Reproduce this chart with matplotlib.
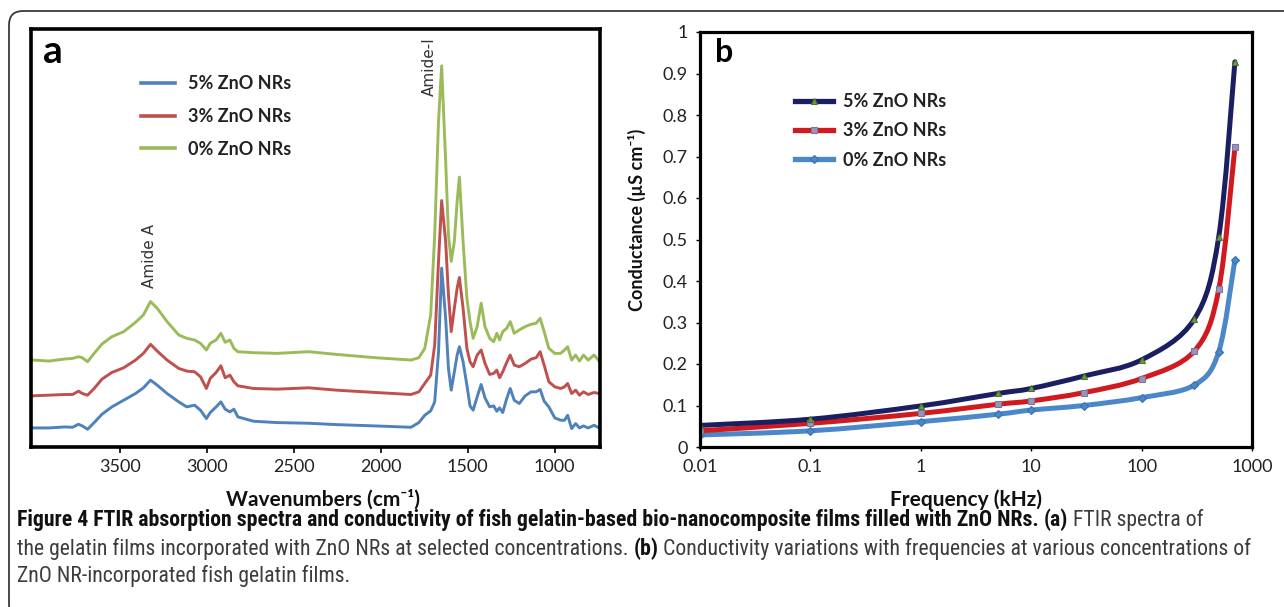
import matplotlib
matplotlib.use('Agg')
import matplotlib.pyplot as plt
from matplotlib import font_manager as fm
from matplotlib.path import Path
from matplotlib.patches import PathPatch, FancyBboxPatch
from matplotlib.lines import Line2D
from matplotlib.transforms import IdentityTransform
from matplotlib.ticker import NullLocator
import numpy as np

# ---------------- data: panel a (FTIR, arbitrary absorbance units) ----------------
wavenumber = [3998, 3907, 3817, 3771, 3737, 3715, 3685, 3647, 3602, 3545,
              3477, 3409, 3364, 3323, 3285, 3228, 3161, 3115, 3070, 3036,
              3002, 2980, 2946, 2919, 2894, 2867, 2844, 2821, 2731, 2595,
              2414, 2256, 2030, 1826, 1781, 1747, 1713, 1690, 1668, 1650,
              1627, 1611, 1595, 1577, 1561, 1548, 1527, 1505, 1487, 1469,
              1446, 1423, 1401, 1374, 1351, 1333, 1317, 1299, 1276, 1256,
              1233, 1204, 1170, 1136, 1107, 1084, 1061, 1034, 1000, 966,
              944, 926, 903, 880, 858, 835, 808, 774, 745]
abs_5 = [.057, .057, .060, .059, .068, .063, .053, .073, .098, .120,
         .140, .160, .177, .200, .185, .160, .135, .120, .125, .110,
         .085, .103, .120, .135, .113, .105, .113, .090, .077, .073,
         .071, .067, .063, .059, .073, .095, .108, .135, .285, .535,
         .385, .235, .170, .225, .275, .300, .255, .185, .123, .110,
         .150, .187, .147, .120, .123, .107, .117, .103, .145, .175,
         .140, .130, .153, .165, .165, .172, .137, .120, .087, .080,
         .080, .095, .055, .070, .057, .063, .057, .065, .057]
abs_3 = [.153, .155, .157, .157, .167, .160, .155, .175, .203, .223,
         .237, .260, .280, .307, .287, .260, .235, .227, .225, .210,
         .175, .205, .223, .243, .207, .215, .195, .183, .175, .173,
         .177, .170, .163, .157, .165, .190, .215, .305, .555, .737,
         .615, .455, .345, .415, .475, .507, .415, .295, .255, .240,
         .275, .290, .250, .217, .220, .230, .207, .225, .253, .275,
         .245, .240, .250, .263, .267, .285, .245, .195, .180, .175,
         .180, .190, .160, .170, .155, .165, .157, .163, .160]
abs_0 = [.260, .257, .263, .265, .270, .267, .255, .280, .308, .330,
         .345, .373, .395, .435, .415, .375, .335, .325, .320, .310,
         .290, .310, .320, .340, .313, .320, .295, .285, .282, .280,
         .285, .277, .267, .260, .267, .295, .395, .635, .975, 1.140,
         .855, .635, .555, .615, .735, .807, .615, .445, .375, .325,
         .360, .430, .360, .325, .315, .340, .320, .345, .355, .375,
         .340, .350, .360, .367, .370, .385, .345, .295, .280, .280,
         .290, .300, .260, .275, .257, .275, .260, .275, .257]
ftir_ticks = [3500, 3000, 2500, 2000, 1500, 1000]

# ---------------- data: panel b (conductance) ----------------
freq_khz = [0.01, 0.1, 1, 5, 10, 30, 100, 300, 500, 700]
cond_5 = [0.052, 0.067, 0.099, 0.129, 0.141, 0.171, 0.210, 0.308, 0.507, 0.928]
cond_3 = [0.039, 0.057, 0.081, 0.103, 0.111, 0.131, 0.165, 0.231, 0.380, 0.722]
cond_0 = [0.029, 0.039, 0.061, 0.079, 0.089, 0.100, 0.119, 0.149, 0.230, 0.451]
freq_ticks = [0.01, 0.1, 1, 10, 100, 1000]
freq_tick_labels = ['0.01', '0.1', '1', '10', '100', '1000']
cond_ticks = [0, 0.1, 0.2, 0.3, 0.4, 0.5, 0.6, 0.7, 0.8, 0.9, 1.0]
cond_tick_labels = ['0', '0.1', '0.2', '0.3', '0.4', '0.5', '0.6', '0.7', '0.8', '0.9', '1']
labels = ['5% ZnO NRs', '3% ZnO NRs', '0% ZnO NRs']


def pick(cands):
    for c in cands:
        try:
            fm.findfont(fm.FontProperties(family=c), fallback_to_default=False)
            return c
        except Exception:
            pass
    return 'DejaVu Sans'


CF = pick(['Lato', 'Open Sans', 'DejaVu Sans'])
CAPF = pick(['Liberation Sans Narrow', 'Roboto Condensed', 'Open Sans Condensed', 'Lato'])
FAM = [CF, 'DejaVu Sans']

W, H = 1284, 607
fig = plt.figure(figsize=(W / 100, H / 100), dpi=100)
fig.patch.set_facecolor('white')


def px_axes(l, t, r, b):
    return fig.add_axes([l / W, 1 - b / H, (r - l) / W, (b - t) / H])


# outer rounded frame
frame = FancyBboxPatch((9, -12), 1300, 607 - 11 + 12, boxstyle='round,pad=0,rounding_size=14',
                       transform=IdentityTransform(), fill=False, ec='#3a3a3a', lw=1.3)
fig.add_artist(frame)

# ---------------- panel a ----------------
axA = px_axes(31, 29, 600, 447)
lA0, = axA.plot(wavenumber, abs_0, color='#9bbb59', lw=2.1, solid_joinstyle='round')
lA3, = axA.plot(wavenumber, abs_3, color='#c0504d', lw=2.1, solid_joinstyle='round')
lA5, = axA.plot(wavenumber, abs_5, color='#4f81bd', lw=2.1, solid_joinstyle='round')
axA.set_xlim(4010, 740)
axA.set_ylim(0, 1.25)
axA.set_xticks(ftir_ticks)
axA.set_xticklabels([str(t) for t in ftir_ticks], family=FAM, fontsize=13, color='#222222')
axA.set_yticks([])
axA.tick_params(axis='x', direction='out', length=4, width=1.2, pad=5)
for s in axA.spines.values():
    s.set_linewidth(2.6)
    s.set_color('black')
axA.set_xlabel('Wavenumbers (cm⁻¹)', family=FAM, fontsize=15, fontweight='bold', color='#111111')
axA.xaxis.set_label_coords((323 - 31) / 569, (447 - 489) / 418)


def fa(px, py):
    return ((px - 31) / 569, (447 - py) / 418)


axA.text(*fa(43, 63), 'a', transform=axA.transAxes, family=FAM, fontsize=28,
         fontweight='bold', ha='left', va='baseline')
axA.text(*fa(149, 256), 'Amide A', transform=axA.transAxes, rotation=90, fontsize=11,
         color='#333333', ha='center', va='center', family=['DejaVu Sans'])
axA.text(*fa(429, 67), 'Amide-I', transform=axA.transAxes, rotation=90, fontsize=11,
         color='#333333', ha='center', va='center', family=['DejaVu Sans'])
legA = axA.legend([lA5, lA3, lA0], labels, loc='upper left', bbox_to_anchor=fa(141, 75),
                  frameon=False, borderpad=0, borderaxespad=0, handlelength=1.9,
                  handletextpad=0.7, labelspacing=0.88,
                  prop=fm.FontProperties(family=FAM, weight='bold', size=13))
for t in legA.get_texts():
    t.set_color('#222222')
for h in legA.get_lines():
    h.set_linewidth(2.6)

# ---------------- panel b ----------------
axB = px_axes(700, 32, 1252, 447)
axB.set_xscale('log')
axB.set_xlim(0.01, 1000)
axB.set_ylim(0, 1)


def smooth_path(xs, ys):
    lx = np.log10(np.asarray(xs, float))
    y = np.asarray(ys, float)
    P = np.column_stack([lx, y])
    n = len(P)
    verts = [P[0]]
    codes = [Path.MOVETO]
    for i in range(n - 1):
        p_prev = P[i - 1] if i > 0 else P[i]
        p_next2 = P[i + 2] if i + 2 < n else P[i + 1]
        c1 = P[i] + (P[i + 1] - p_prev) / 6.0
        c2 = P[i + 1] - (p_next2 - P[i]) / 6.0
        verts += [c1, c2, P[i + 1]]
        codes += [Path.CURVE4] * 3
    V = np.array(verts)
    V[:, 0] = 10 ** V[:, 0]
    return Path(V, codes)


styles = [
    (cond_0, '#4a88c9', 'D', '#4a88c9', '#3a70b0', 4.5),
    (cond_3, '#d01a1f', 's', '#9a94b8', '#7a76a0', 4.5),
    (cond_5, '#1b1f62', '^', '#6f9a3c', '#50742a', 5.0),
]
handles = {}
for ys, col, mk, mfc, mec, ms in styles:
    axB.add_patch(PathPatch(smooth_path(freq_khz, ys), fill=False, ec=col, lw=3.6,
                            capstyle='round', joinstyle='round'))
    axB.plot(freq_khz, ys, linestyle='none', marker=mk, ms=ms, mfc=mfc, mec=mec, mew=0.8)
    handles[col] = Line2D([], [], color=col, lw=3.8, marker=mk, ms=ms, mfc=mfc, mec=mec, mew=0.8)

axB.set_xticks(freq_ticks)
axB.set_xticklabels(freq_tick_labels, family=FAM, fontsize=13, color='#222222')
axB.xaxis.set_minor_locator(NullLocator())
axB.set_yticks(cond_ticks)
axB.set_yticklabels(cond_tick_labels, family=FAM, fontsize=13, color='#222222')
axB.tick_params(direction='out', length=3, width=1.0, pad=6)
for s in axB.spines.values():
    s.set_linewidth(2.3)
    s.set_color('black')
axB.set_xlabel('Frequency (kHz)', family=FAM, fontsize=15, fontweight='bold', color='#111111')
axB.xaxis.set_label_coords((966 - 700) / 552, (447 - 489) / 415)
axB.set_ylabel('Conductance (µS cm⁻¹)', family=FAM, fontsize=13, fontweight='bold', color='#111111')
axB.yaxis.set_label_coords((646 - 700) / 552, (447 - 220) / 415)


def fb(px, py):
    return ((px - 700) / 552, (447 - py) / 415)


axB.text(*fb(715, 62), 'b', transform=axB.transAxes, family=FAM, fontsize=23,
         fontweight='bold', ha='left', va='baseline')
legB = axB.legend([handles['#1b1f62'], handles['#d01a1f'], handles['#4a88c9']], labels,
                  loc='upper left', bbox_to_anchor=fb(795, 93), frameon=False, borderpad=0,
                  borderaxespad=0, handlelength=2.1, handletextpad=0.55, labelspacing=0.68,
                  numpoints=1, prop=fm.FontProperties(family=FAM, weight='bold', size=13))
for t in legB.get_texts():
    t.set_color('#222222')

# ---------------- caption ----------------
renderer = fig.canvas.get_renderer()
cap_lines = [
    (520, [('Figure 4 FTIR absorption spectra and conductivity of fish gelatin-based '
            'bio-nanocomposite films filled with ZnO NRs.', 'bold'),
           (' ', 'normal'), ('(a)', 'bold'), (' FTIR spectra of', 'normal')]),
    (549, [('the gelatin films incorporated with ZnO NRs at selected concentrations. ', 'normal'),
           ('(b)', 'bold'),
           (' Conductivity variations with frequencies at various concentrations of', 'normal')]),
    (576, [('ZnO NR-incorporated fish gelatin films.', 'normal')]),
]


def measure(runs, fs):
    total = 0
    for txt, wt in runs:
        t = fig.text(0, 0, txt, family=[CAPF, 'DejaVu Sans'], fontsize=fs, fontweight=wt)
        total += t.get_window_extent(renderer).width
        t.remove()
    return total


fs0 = 10.0
cap_fs = min(fs0 * 1252.0 / measure(cap_lines[0][1], fs0),
             fs0 * 1228.0 / measure(cap_lines[1][1], fs0))

for ypx, runs in cap_lines:
    x = 17.0
    for txt, wt in runs:
        t = fig.text(x / W, 1 - ypx / H, txt, family=[CAPF, 'DejaVu Sans'], fontsize=cap_fs,
                     fontweight=wt, va='center', ha='left',
                     color='#111111' if wt == 'bold' else '#3c3c3c')
        x += t.get_window_extent(renderer).width

fig.savefig('out.png', dpi=100, facecolor='white')
